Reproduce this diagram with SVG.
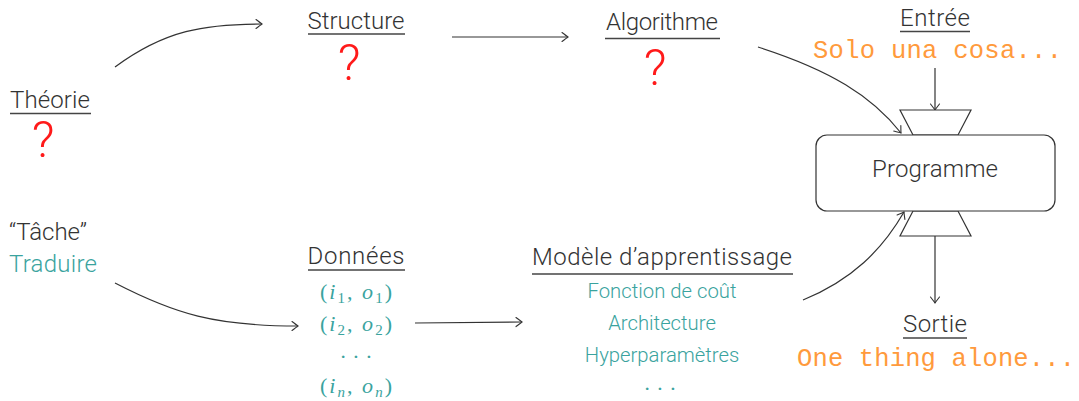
<svg xmlns="http://www.w3.org/2000/svg" width="1079" height="401" viewBox="0 0 1079 401">
  <style>
    .t { font-family: Roboto, "Liberation Sans", sans-serif; font-weight: 300; fill: #333; font-size: 24px; }
    .c { text-anchor: middle; }
    .teal { fill: #3aa39e; }
    .s { font-size: 20.3px; }
    .q { font-family: Roboto, "Liberation Sans", sans-serif; font-weight: 300; fill: #ff1a1a; font-size: 50px; text-anchor: middle; }
    .mono { font-family: "Liberation Mono", "Courier New", monospace; fill: #ff9a3c; font-size: 25.5px; }
    .m { font-family: "Liberation Serif", "DejaVu Serif", serif; fill: #3aa39e; font-size: 22px; text-anchor: middle; }
    .m tspan.i { font-style: italic; }
    .m tspan.sub { font-size: 15px; }
    .ul { stroke: #444; stroke-width: 1.3; }
    .edge { fill: none; stroke: #333; stroke-width: 1.2; marker-end: url(#to); }
    .shape { fill: #fff; stroke: #333; stroke-width: 1.2; }
  </style>
  <defs>
    <marker id="to" viewBox="-8 -6 10 12" markerWidth="10" markerHeight="12" refX="0" refY="0" orient="auto" markerUnits="userSpaceOnUse">
      <path d="M-6,-4.5 Q-1.5,-1 0,0 Q-1.5,1 -6,4.5" fill="none" stroke="#333" stroke-width="1.1" stroke-linecap="round"/>
    </marker>
  </defs>

  <rect width="1079" height="401" fill="#fff"/>

  <!-- connectors -->
  <g id="connectors">
    <path class="edge" d="M115,67 C165,30 205,24 262,24"/>
    <path class="edge" d="M452,37 L568,37"/>
    <path class="edge" d="M758,47 C830,70 872,96 901,133"/>
    <path class="edge" d="M115,283 C175,314 215,326 298,326"/>
    <path class="edge" d="M415,323 L522,322"/>
    <path class="edge" d="M803,300 C852,280 882,250 904,212"/>
    <path class="edge" d="M935,68 L935,110"/>
    <path class="edge" d="M935,236 L935,303"/>
  </g>

  <!-- Théorie -->
  <g id="theorie">
    <text class="t" x="10" y="108" textLength="80">Théorie</text>
    <line class="ul" x1="10" y1="113.5" x2="91" y2="113.5"/>
    <text class="q" x="43" y="157">?</text>
  </g>

  <!-- Structure -->
  <g id="structure">
    <text class="t c" x="356" y="29" textLength="97">Structure</text>
    <line class="ul" x1="308" y1="34" x2="405" y2="34"/>
    <text class="q" x="349" y="80">?</text>
  </g>

  <!-- Algorithme -->
  <g id="algorithme">
    <text class="t c" x="662" y="30" textLength="112">Algorithme</text>
    <line class="ul" x1="605" y1="38.5" x2="720" y2="38.5"/>
    <text class="q" x="655" y="85">?</text>
  </g>

  <!-- Entrée -->
  <g id="entree">
    <text class="t c" x="935" y="26" textLength="70">Entrée</text>
    <line class="ul" x1="900" y1="31.5" x2="970" y2="31.5"/>
    <text class="mono" x="813" y="58" textLength="249">Solo una cosa...</text>
  </g>

  <!-- Programme with input and output funnels -->
  <g id="programme">
    <polygon class="shape" points="900,110 971,110 958,135 913,135"/>
    <polygon class="shape" points="913,211 958,211 971,236 900,236"/>
    <rect class="shape" x="816" y="135" width="239" height="76" rx="11" ry="11"/>
    <text class="t c" x="935" y="177" textLength="126">Programme</text>
  </g>

  <!-- Sortie -->
  <g id="sortie">
    <text class="t c" x="935" y="332" textLength="64">Sortie</text>
    <line class="ul" x1="903" y1="338" x2="967" y2="338"/>
    <text class="mono" x="797" y="366" textLength="278">One thing alone...</text>
  </g>

  <!-- Tâche -->
  <g id="tache">
    <text class="t" x="9" y="240">“Tâche”</text>
    <text class="t teal" x="9" y="272" textLength="88">Traduire</text>
  </g>

  <!-- Données -->
  <g id="donnees">
    <text class="t c" x="356" y="264" textLength="97">Données</text>
    <line class="ul" x1="308" y1="270" x2="405" y2="270"/>
    <text class="m" x="356" y="299" textLength="72">(<tspan class="i">i</tspan><tspan class="sub" dy="4">1</tspan><tspan dy="-4">, </tspan><tspan class="i">o</tspan><tspan class="sub" dy="4">1</tspan><tspan dy="-4">)</tspan></text>
    <text class="m" x="356" y="331" textLength="72">(<tspan class="i">i</tspan><tspan class="sub" dy="4">2</tspan><tspan dy="-4">, </tspan><tspan class="i">o</tspan><tspan class="sub" dy="4">2</tspan><tspan dy="-4">)</tspan></text>
    <text class="m" x="356" y="364">· · ·</text>
    <text class="m" x="356" y="393" textLength="72">(<tspan class="i">i</tspan><tspan class="i sub" dy="4">n</tspan><tspan dy="-4">, </tspan><tspan class="i">o</tspan><tspan class="i sub" dy="4">n</tspan><tspan dy="-4">)</tspan></text>
  </g>

  <!-- Modèle d'apprentissage -->
  <g id="modele">
    <text class="t c" x="662" y="265" textLength="260">Modèle d’apprentissage</text>
    <line class="ul" x1="532" y1="274" x2="793" y2="274"/>
    <text class="t c teal s" x="662" y="298">Fonction de coût</text>
    <text class="t c teal s" x="662" y="330">Architecture</text>
    <text class="t c teal s" x="662" y="362">Hyperparamètres</text>
    <text class="m" x="660" y="396">· · ·</text>
  </g>
</svg>
